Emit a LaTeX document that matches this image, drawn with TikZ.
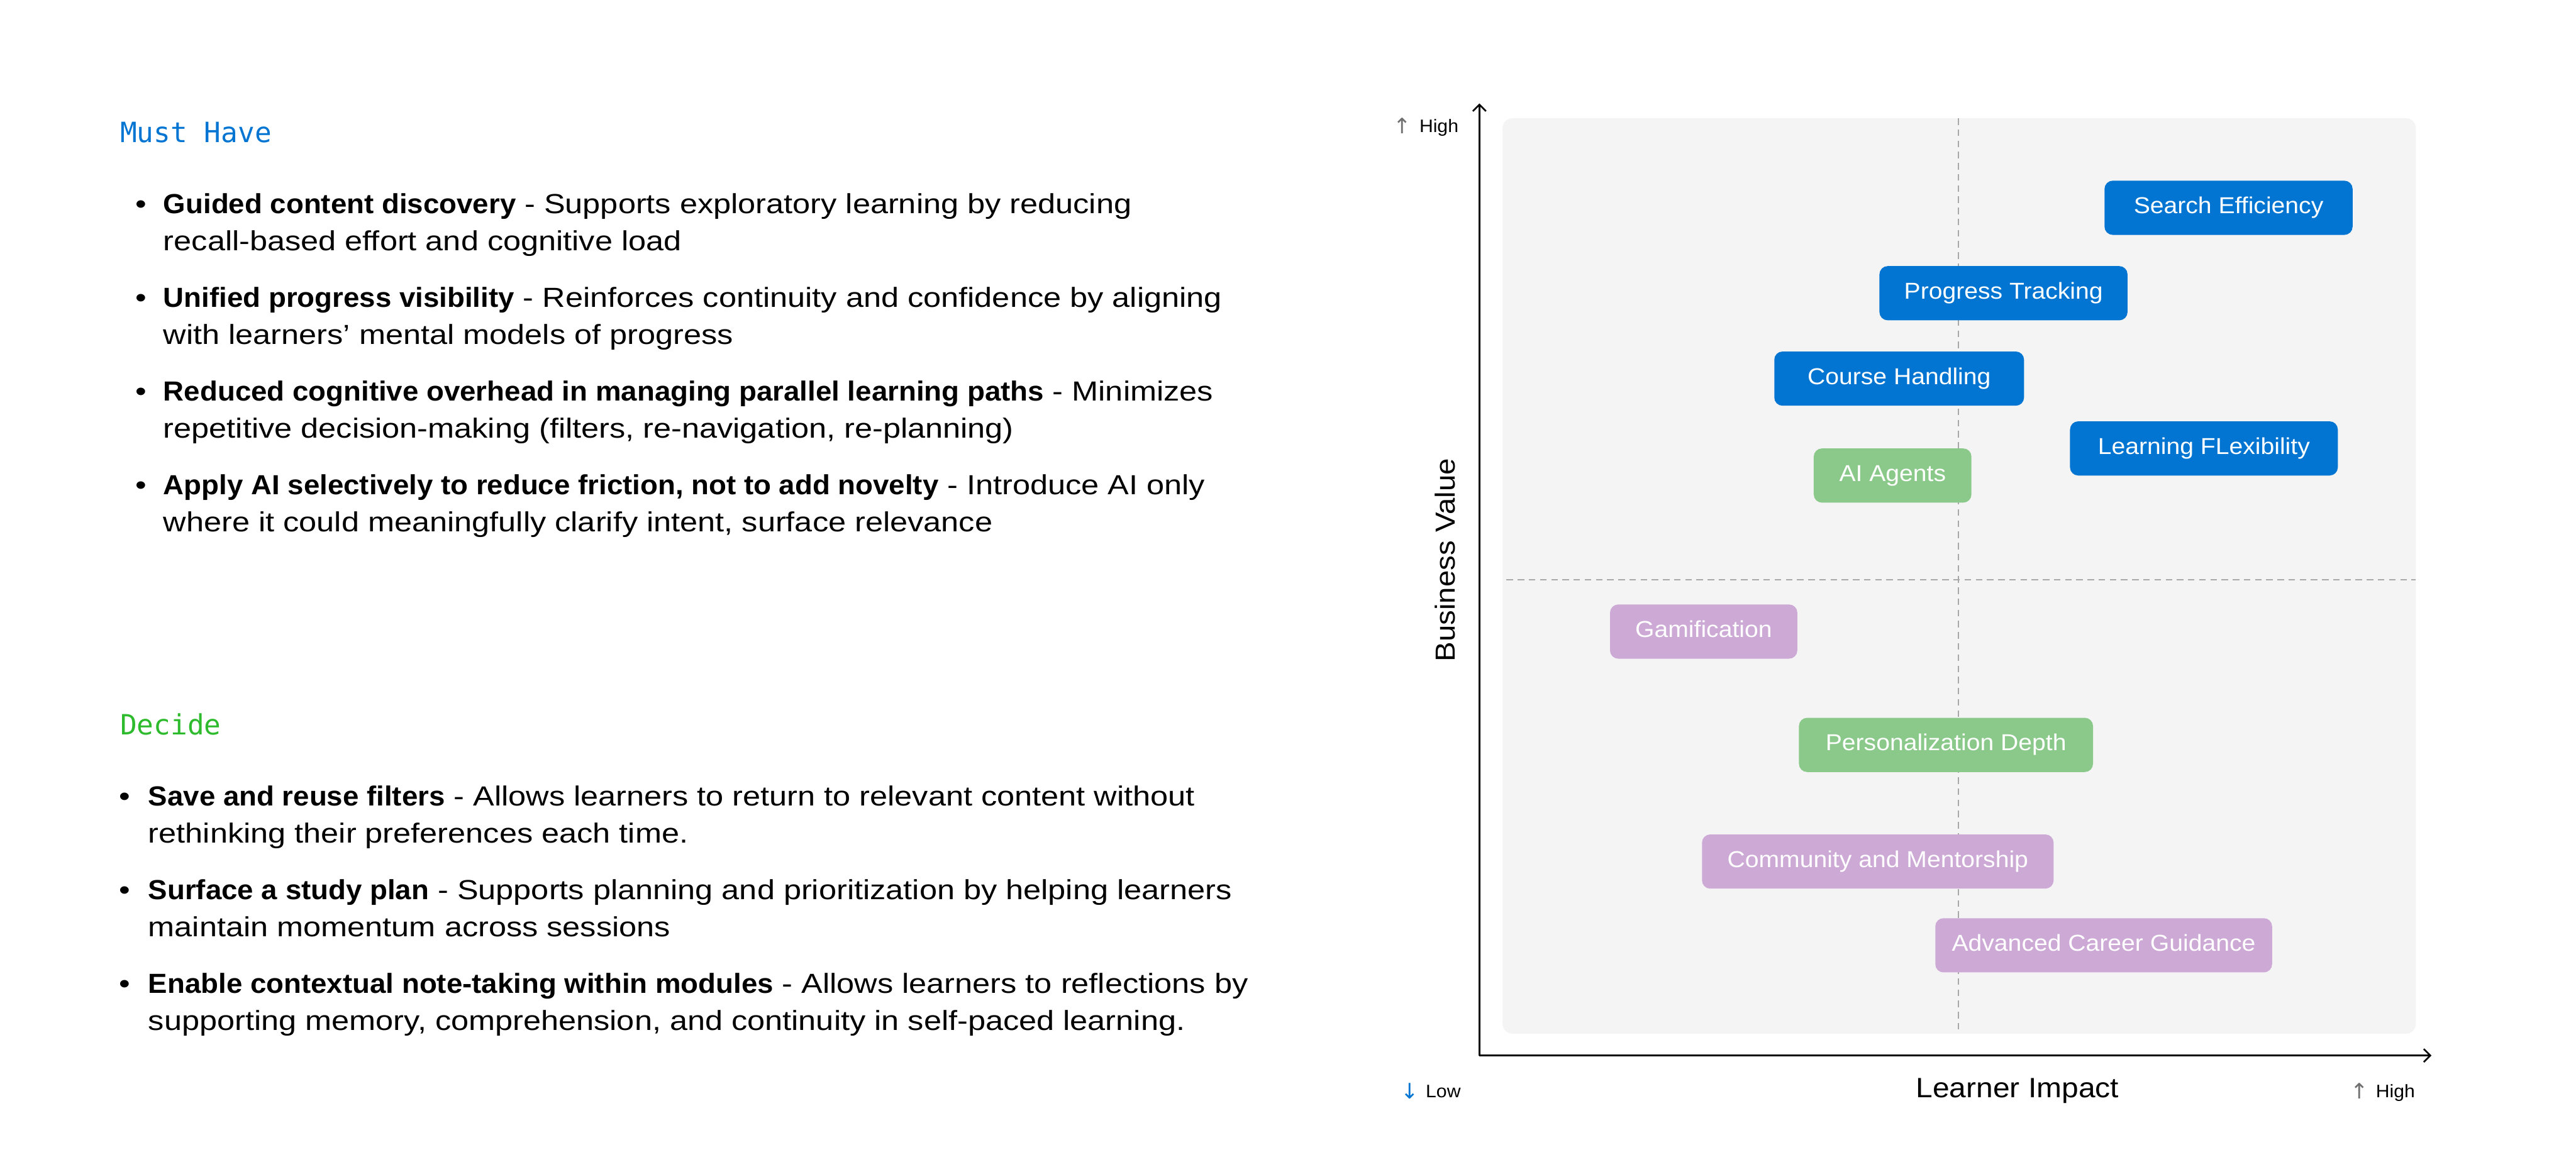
\documentclass[tikz,border=0pt]{standalone}
\usepackage{fontspec}
\setmainfont{Liberation Sans}[FakeStretch=1.15]
\newfontfamily\boldf{Liberation Sans}[FakeStretch=1.04]
\newfontfamily\tagf{Liberation Sans}[FakeStretch=1.07]
\newfontfamily\axisf{Liberation Sans}[FakeStretch=1.08]
\newfontfamily\smallf{Liberation Sans}[FakeStretch=1.05]
\newfontfamily\monof{DejaVu Sans Mono}
\newfontfamily\symf{DejaVu Sans}
\newcommand{\bt}[1]{{\boldf\bfseries #1}}
\usetikzlibrary{arrows.meta}
\definecolor{mblue}{HTML}{0275D3}
\definecolor{mgreen}{HTML}{2DBB2D}
\definecolor{bgreen}{HTML}{8BC98A}
\definecolor{bpurple}{HTML}{CDA9D6}
\definecolor{panel}{HTML}{F4F4F4}
\definecolor{dashc}{HTML}{A8A8A8}
\definecolor{arrowgray}{HTML}{707070}
\begin{document}
\begin{tikzpicture}[x=1pt,y=-1pt,
  heading/.style={anchor=base west, inner sep=0, font=\monof\fontsize{17}{20}\selectfont},
  bodyline/.style={anchor=base west, inner sep=0, font=\fontsize{16.8}{20}\selectfont},
  bulletmark/.style={anchor=base, inner sep=0, font=\fontsize{16.8}{20}\selectfont},
  tag/.style={rounded corners=5pt, minimum height=33pt, inner sep=0, text=white,
    text height=10pt, text depth=3pt, font=\tagf\fontsize{14}{16}\selectfont},
  bluetag/.style={tag, fill=mblue},
  greentag/.style={tag, fill=bgreen},
  purpletag/.style={tag, fill=bpurple},
  axisline/.style={line width=1pt, -{Straight Barb[length=4pt,width=8pt]}},
  quad/.style={dashc, line width=0.8pt, dash pattern=on 4pt off 2.8pt},
  smalllabel/.style={anchor=base west, inner sep=0, font=\smallf\fontsize{11}{13}\selectfont},
  smallarrow/.style={anchor=base, inner sep=0, font=\symf\fontsize{13}{15}\selectfont}
]
\useasboundingbox (0,0) rectangle (1568,707.3);

% ---------- Left column ----------
\node[heading, text=mblue] (mh) at (73,86.7) {Must Have};

\node[bulletmark] (b1) at (85.7,130) {•};
\node[bodyline] (l1a) at (99.3,130) {\bt{Guided content discovery} - Supports exploratory learning by reducing};
\node[bodyline] (l1b) at (99.3,152.6) {recall-based effort and cognitive load};

\node[bulletmark] (b2) at (85.7,187) {•};
\node[bodyline] (l2a) at (99.3,187) {\bt{Unified progress visibility} - Reinforces continuity and confidence by aligning};
\node[bodyline] (l2b) at (99.3,209.6) {with learners’ mental models of progress};

\node[bulletmark] (b3) at (85.7,244) {•};
\node[bodyline] (l3a) at (99.3,244) {\bt{Reduced cognitive overhead in managing parallel learning paths} - Minimizes};
\node[bodyline] (l3b) at (99.3,266.6) {repetitive decision-making (filters, re-navigation, re-planning)};

\node[bulletmark] (b4) at (85.7,301) {•};
\node[bodyline] (l4a) at (99.3,301) {\bt{Apply AI selectively to reduce friction, not to add novelty} - Introduce AI only};
\node[bodyline] (l4b) at (99.3,323.6) {where it could meaningfully clarify intent, surface relevance};

\node[heading, text=mgreen] (dc) at (73,447.3) {Decide};

\node[bulletmark] (d1) at (76,490.7) {•};
\node[bodyline] (m1a) at (90.1,490.7) {\bt{Save and reuse filters} - Allows learners to return to relevant content without};
\node[bodyline] (m1b) at (90.1,513.3) {rethinking their preferences each time.};

\node[bulletmark] (d2) at (76,547.7) {•};
\node[bodyline] (m2a) at (90.1,547.7) {\bt{Surface a study plan} - Supports planning and prioritization by helping learners};
\node[bodyline] (m2b) at (90.1,570.3) {maintain momentum across sessions};

\node[bulletmark] (d3) at (76,604.7) {•};
\node[bodyline] (m3a) at (90.1,604.7) {\bt{Enable contextual note-taking within modules} - Allows learners to reflections by};
\node[bodyline] (m3b) at (90.1,627.3) {supporting memory, comprehension, and continuity in self-paced learning.};

% ---------- Chart ----------
\fill[panel, rounded corners=6pt] (914.6,72) rectangle (1470.5,629.3);
\draw[quad] (1192,72) -- (1192,629.3);
\draw[quad] (917,353) -- (1470.5,353);

\coordinate (origin) at (900.5,642.6);
\coordinate (ytop) at (900.5,63);
\coordinate (xend) at (1480,642.6);
\draw[axisline] (origin) -- (ytop);
\draw[axisline] (origin) -- (xend);

\node[smallarrow, text=arrowgray] (hia) at (853.5,81.5) {↑};
\node[smalllabel] (hit) at (863.8,80.7) {High};
\node[smallarrow, text=mblue] (loa) at (858,669) {↓};
\node[smalllabel] (lot) at (867.7,668.3) {Low};
\node[smallarrow, text=arrowgray] (hra) at (1436,669) {↑};
\node[smalllabel] (hrt) at (1446,668.3) {High};

\node[anchor=base, inner sep=0, font=\axisf\fontsize{17}{20}\selectfont] (xlab) at (1228,668.3) {Learner Impact};
\node[anchor=base, inner sep=0, rotate=90, font=\axisf\fontsize{16.8}{20}\selectfont] (ylab) at (885.5,341) {Business Value};

\node[bluetag, minimum width=151pt] (se) at (1356.5,126.5) {Search Efficiency};
\node[bluetag, minimum width=151pt] (ptk) at (1219.5,178.5) {Progress Tracking};
\node[bluetag, minimum width=152pt] (ch) at (1156,230.5) {Course Handling};
\node[bluetag, minimum width=163pt] (lf) at (1341.5,273) {Learning FLexibility};
\node[greentag, minimum width=96pt] (ai) at (1152,289.5) {AI Agents};
\node[purpletag, minimum width=114pt] (ga) at (1037,384.5) {Gamification};
\node[greentag, minimum width=179pt] (pd) at (1184.5,453.5) {Personalization Depth};
\node[purpletag, minimum width=214pt] (cm) at (1143,524.5) {Community and Mentorship};
\node[purpletag, minimum width=205pt] (acg) at (1280.5,575.5) {Advanced Career Guidance};
\end{tikzpicture}
\end{document}
